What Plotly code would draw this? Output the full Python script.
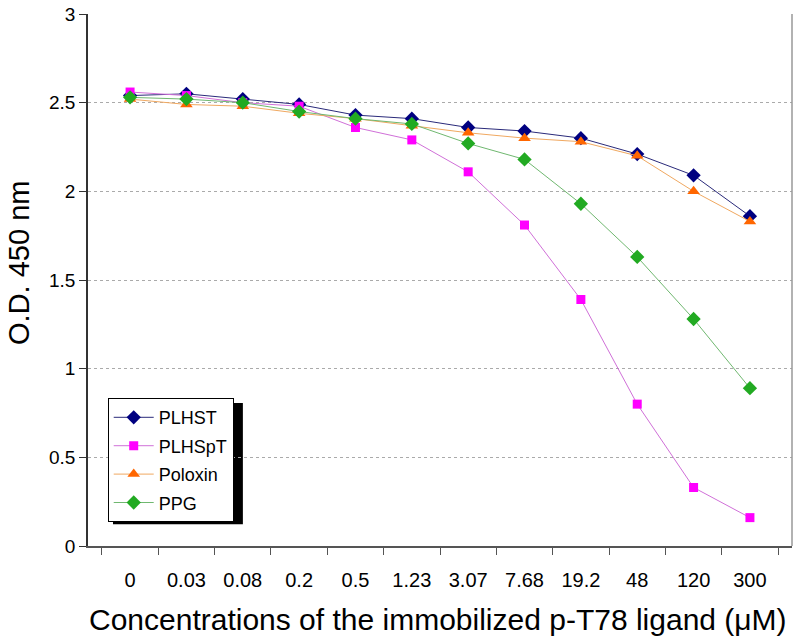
import plotly.graph_objects as go

concentrations = ["0", "0.03", "0.08", "0.2", "0.5", "1.23", "3.07", "7.68", "19.2", "48", "120", "300"]

plhst = [2.54, 2.55, 2.52, 2.49, 2.43, 2.41, 2.36, 2.34, 2.30, 2.21, 2.09, 1.86]
plhspt = [2.56, 2.54, 2.50, 2.48, 2.36, 2.29, 2.11, 1.81, 1.39, 0.80, 0.33, 0.16]
poloxin = [2.52, 2.49, 2.48, 2.44, 2.41, 2.37, 2.33, 2.30, 2.28, 2.20, 2.00, 1.83]
ppg = [2.53, 2.52, 2.50, 2.45, 2.41, 2.38, 2.27, 2.18, 1.93, 1.63, 1.28, 0.89]

FONT = "Liberation Sans, Arial, sans-serif"

fig = go.Figure()
fig.add_trace(go.Scatter(x=concentrations, y=plhst, name="PLHST", mode="lines+markers",
                         legendgroup="a",
                         line=dict(color="#2a2a7a", width=1),
                         marker=dict(symbol="diamond", size=11, color="#000080")))
fig.add_trace(go.Scatter(x=concentrations, y=plhspt, name="PLHSpT", mode="lines+markers",
                         legendgroup="b",
                         line=dict(color="#d070d8", width=1),
                         marker=dict(symbol="square", size=9, color="#ff00ff")))
fig.add_trace(go.Scatter(x=concentrations, y=poloxin, name="Poloxin", mode="lines+markers",
                         legendgroup="c",
                         line=dict(color="#f0a860", width=1),
                         marker=dict(symbol="triangle-up", size=11, color="#ff6600")))
fig.add_trace(go.Scatter(x=concentrations, y=ppg, name="PPG", mode="lines+markers",
                         legendgroup="d",
                         line=dict(color="#70b870", width=1),
                         marker=dict(symbol="diamond", size=11, color="#22aa22")))

# legend shadow and right border
fig.add_shape(type="rect", xref="paper", yref="paper", x0=0.0355, x1=0.220, y0=0.041, y1=0.269,
              fillcolor="black", line=dict(width=0), layer="below")
fig.add_shape(type="line", xref="paper", yref="paper", x0=1, x1=1, y0=0, y1=1,
              line=dict(color="#999999", width=1.5))

# axis titles
fig.add_annotation(text="O.D. 450 nm", xref="paper", yref="paper", x=-0.098, y=0.532,
                   textangle=-90, showarrow=False, font=dict(size=29, family=FONT),
                   xanchor="center", yanchor="middle")
fig.add_annotation(text="Concentrations of the immobilized p-T78 ligand (μM)",
                   xref="paper", yref="paper", x=0.497, y=-0.139, showarrow=False,
                   font=dict(size=30, family=FONT), xanchor="center", yanchor="middle")

fig.update_layout(
    width=800, height=640,
    margin=dict(l=88, r=8, t=14, b=94),
    paper_bgcolor="white", plot_bgcolor="white",
    font=dict(family=FONT, color="black"),
    legend=dict(x=0.028, y=0.278, xanchor="left", yanchor="top",
                bgcolor="white", bordercolor="black", borderwidth=1,
                font=dict(size=18, family=FONT), tracegroupgap=2, itemwidth=40),
    xaxis=dict(type="category", tickson="boundaries", ticks="outside", ticklen=7,
               tickcolor="#555555", showline=True, linecolor="#555555", linewidth=1.5,
               showgrid=False, tickfont=dict(size=20), automargin=False,
               ticklabelstandoff=15),
    yaxis=dict(range=[0, 3], dtick=0.5, ticks="outside", ticklen=7, tickcolor="#333333",
               showline=True, linecolor="#333333", linewidth=1.5,
               showgrid=True, gridcolor="#aaaaaa", griddash="dot", gridwidth=1,
               zeroline=False, tickfont=dict(size=19), automargin=False),
)

fig.write_html("out.html", config={"displayModeBar": False},
               post_script="document.body.style.margin='0';")
